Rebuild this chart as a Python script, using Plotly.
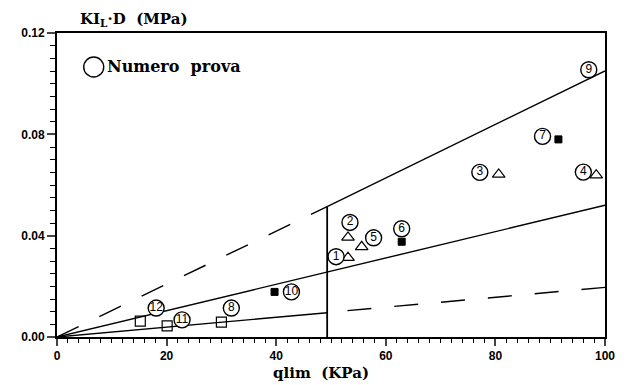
import plotly.graph_objects as go

# ---- data ----
test_no = [1, 2, 3, 4, 5, 6, 7, 8, 9, 10, 11, 12]
qlim = [53.1, 53.1, 80.6, 98.4, 55.6, 62.9, 91.5, 30.0, 100.3, 39.7, 20.1, 15.2]
kild = [0.0313, 0.0393, 0.0642, 0.0639, 0.0356, 0.0376, 0.0780, 0.0059, 0.1047, 0.0178, 0.0044, 0.0063]
kind = ["tri", "tri", "tri", "tri", "tri", "fsq", "fsq", "osq", "tri", "fsq", "osq", "osq"]

# reference lines (endpoints)
upper_dash_x, upper_dash_y = [0, 49.3], [0, 0.0515]
upper_solid_x, upper_solid_y = [49.3, 100], [0.0515, 0.105]
middle_x, middle_y = [0, 100], [0, 0.052]
lower_solid_x, lower_solid_y = [0, 49.3], [0, 0.0096]
lower_dash_x, lower_dash_y = [53, 100], [0.0104, 0.0196]
vert_x, vert_y = [49.3, 49.3], [0, 0.0515]

x_ticks = [0, 20, 40, 60, 80, 100]
y_ticks = [0.00, 0.04, 0.08, 0.12]
y_labels = ["0.00", "0.04", "0.08", "0.12"]

# label bubble offsets in pixels (dx right, dy down)
label_off = {1: (-12, -1), 2: (2, -15), 3: (-19, -2), 4: (-13, -3), 5: (12, -9),
             6: (0, -13), 7: (-16, -3), 8: (10, -14), 9: (-18, -2), 10: (17, 0),
             11: (15, -6), 12: (16, -13)}

W, H = 627, 385
ML, MR, MT, MB = 57, 18, 33, 48
PW, PH = W - ML - MR, H - MT - MB
XR, YR = [0, 100], [0, 0.12]
sx = (XR[1] - XR[0]) / PW
sy = (YR[1] - YR[0]) / PH

fig = go.Figure()
line = dict(color="black", width=1.4)
dline = dict(color="black", width=1.4, dash="24px,23px")

for xs, ys, ln in [(upper_dash_x, upper_dash_y, dline), (upper_solid_x, upper_solid_y, line),
                   (middle_x, middle_y, line), (lower_solid_x, lower_solid_y, line),
                   (lower_dash_x, lower_dash_y, dline), (vert_x, vert_y, dict(color="black", width=1.8))]:
    fig.add_trace(go.Scatter(x=xs, y=ys, mode="lines", line=ln, hoverinfo="skip",
                             showlegend=False, cliponaxis=False))

sym_map = {"tri": ("triangle-up-open", 11, 1.2), "osq": ("square-open", 10, 1.2), "fsq": ("square", 7, 1)}
for k in ["tri", "osq", "fsq"]:
    xs = [q for q, t in zip(qlim, kind) if t == k]
    ys = [v for v, t in zip(kild, kind) if t == k]
    s, sz, lw = sym_map[k]
    fig.add_trace(go.Scatter(x=xs, y=ys, mode="markers", cliponaxis=False, showlegend=False,
                             marker=dict(symbol=s, size=sz, color="black", line=dict(color="black", width=lw))))

lx = [q + label_off[n][0] * sx for q, n in zip(qlim, test_no)]
ly = [v - label_off[n][1] * sy for v, n in zip(kild, test_no)]
fig.add_trace(go.Scatter(x=lx, y=ly, mode="markers+text", text=[str(n) for n in test_no],
                         textposition="middle center", cliponaxis=False, showlegend=False,
                         textfont=dict(family="Liberation Sans", size=12, color="black"),
                         marker=dict(symbol="circle", size=16, color="white",
                                     line=dict(color="black", width=1.4))))

# legend symbol
cx, cy = (94 - ML) / PW, (H - MB - 67) / PH
fig.add_shape(type="circle", xref="paper", yref="paper", xsizemode="pixel", ysizemode="pixel",
              xanchor=cx, yanchor=cy, x0=-10, x1=10, y0=-10, y1=10,
              line=dict(color="black", width=1.4))
fig.add_annotation(xref="paper", yref="paper", x=(105 - ML) / PW, y=cy, xanchor="left", yanchor="middle",
                   text="<b>Numero\u00a0\u00a0prova</b>", showarrow=False,
                   font=dict(family="DejaVu Serif", size=16, color="black"))

fig.add_annotation(xref="paper", yref="paper", x=(135 - ML) / PW, y=(H - MB - 19) / PH,
                   xanchor="center", yanchor="middle", showarrow=False,
                   text="<b>KI<sub>L</sub>·D\u00a0\u00a0(MPa)</b>",
                   font=dict(family="DejaVu Serif", size=15, color="black"))
fig.add_annotation(xref="paper", yref="paper", x=(323 - ML) / PW, y=(H - MB - 373) / PH,
                   xanchor="center", yanchor="middle", showarrow=False,
                   text="<b>qlim\u00a0\u00a0(KPa)</b>",
                   font=dict(family="DejaVu Serif", size=15, color="black"))

tf = dict(family="Liberation Sans", size=12, color="black", weight="bold")
fig.update_xaxes(range=XR, tickvals=x_ticks, ticks="outside", ticklen=7, tickwidth=1.5,
                 showline=True, linewidth=2, linecolor="black", mirror=True, showgrid=False,
                 zeroline=False, tickfont=tf,
                 minor=dict(dtick=2, ticks="outside", ticklen=4, tickwidth=1.2, tickcolor="black",
                            showgrid=False))
fig.update_yaxes(range=YR, tickvals=y_ticks, ticktext=y_labels, ticks="outside", ticklen=8, tickwidth=1.5,
                 showline=True, linewidth=2, linecolor="black", mirror=True, showgrid=False,
                 zeroline=False, tickfont=tf,
                 minor=dict(dtick=0.005, ticks="outside", ticklen=5, tickwidth=1.2, tickcolor="black",
                            showgrid=False))
fig.update_layout(width=W, height=H, margin=dict(l=ML, r=MR, t=MT, b=MB),
                  plot_bgcolor="white", paper_bgcolor="white")
fig.write_html("out.html")
